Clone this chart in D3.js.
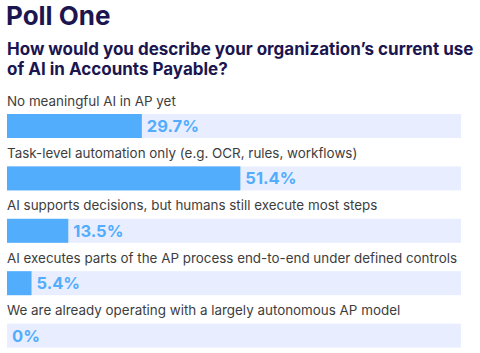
<!DOCTYPE html>
<html>
<head>
<meta charset="utf-8">
<script src="https://cdn.jsdelivr.net/npm/d3@7"></script>
<style>
  body { margin: 0; background: #fff; }
  text { font-family: Inter, "Noto Sans", sans-serif; }
</style>
</head>
<body>
<div id="chart"></div>
<script>
const title = 'Poll One';
const subtitle = ['How would you describe your organization\u2019s current use', 'of AI in Accounts Payable?'];
const answers = [
    'No meaningful AI in AP yet',
    'Task-level automation only (e.g. OCR, rules, workflows)',
    'AI supports decisions, but humans still execute most steps',
    'AI executes parts of the AP process end-to-end under defined controls',
    'We are already operating with a largely autonomous AP model'
];
const shares = [29.7, 51.4, 13.5, 5.4, 0];

const width = 480, height = 353;
const svg = d3.select('#chart').append('svg')
    .attr('width', width)
    .attr('height', height);

svg.append('text')
    .attr('x', 6).attr('y', 25)
    .attr('font-size', 26).attr('font-weight', 700)
    .attr('fill', '#1b1650')
    .text(title);

svg.selectAll('.sub')
    .data(subtitle)
    .join('text')
    .attr('class', 'sub')
    .attr('x', 7)
    .attr('y', (d, i) => 55 + i * 20)
    .attr('font-size', 17).attr('font-weight', 700)
    .attr('fill', '#1b1650')
    .text(d => d);

const x = d3.scaleLinear().domain([0, 100]).range([7, 461]);
const y = d3.scaleBand().domain(d3.range(answers.length)).range([88, 350]).paddingInner(0);
const trackH = 24;

const row = svg.selectAll('.row')
    .data(answers)
    .join('g')
    .attr('class', 'row')
    .attr('transform', (d, i) => `translate(0,${y(i)})`);

row.append('text')
    .attr('x', 7).attr('y', 17.5)
    .attr('font-size', 13.4)
    .attr('fill', '#3d3d3d')
    .text(d => d);

row.append('rect')
    .attr('x', x(0)).attr('y', 26)
    .attr('width', x(100) - x(0)).attr('height', trackH)
    .attr('fill', '#e8eeff');

row.append('rect')
    .attr('x', x(0)).attr('y', 26)
    .attr('width', (d, i) => x(shares[i]) - x(0)).attr('height', trackH)
    .attr('fill', '#52adfd');

row.append('text')
    .attr('x', (d, i) => x(shares[i]) + 5)
    .attr('y', 44)
    .attr('font-size', 16.5).attr('font-weight', 700)
    .attr('fill', '#52adfd')
    .text((d, i) => shares[i] + '%');
</script>
</body>
</html>
